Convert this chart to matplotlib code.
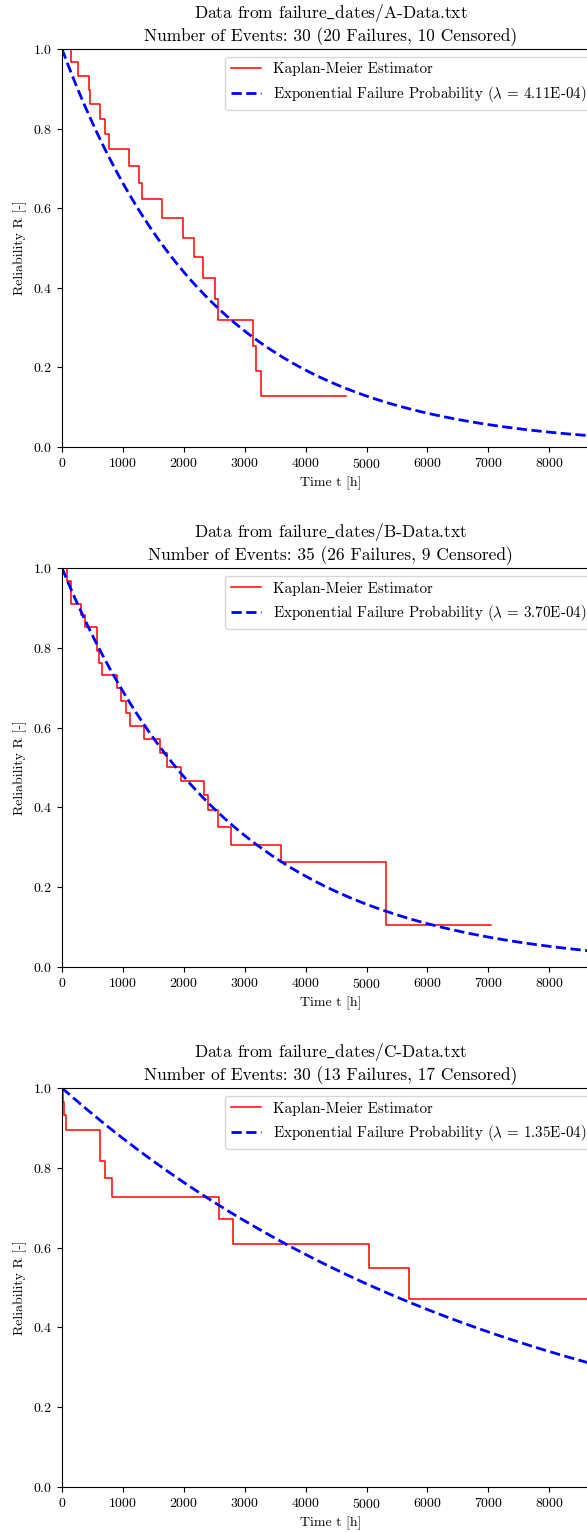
import numpy as np
import matplotlib
matplotlib.use("Agg")
import matplotlib.pyplot as plt

plt.rcParams['font.family'] = 'serif'
plt.rcParams['font.serif'] = ['cmr10', 'DejaVu Serif']
plt.rcParams['mathtext.fontset'] = 'cm'
plt.rcParams['axes.formatter.use_mathtext'] = True
plt.rcParams['axes.unicode_minus'] = False

# Kaplan-Meier step data (time of drop, survival after drop)
files = ["A", "B", "C"]
n_events = [30, 35, 30]
n_failures = [20, 26, 13]
n_censored = [10, 9, 17]
lambdas = [4.11e-4, 3.70e-4, 1.35e-4]

km_times_a = [142, 257, 449, 465, 624, 706, 778, 1095, 1259, 1319, 1647, 1992,
              2173, 2310, 2512, 2567, 3142, 3185, 3268]
km_surv_a = [0.967, 0.933, 0.897, 0.862, 0.825, 0.786, 0.748, 0.706, 0.664, 0.622,
             0.575, 0.526, 0.478, 0.425, 0.372, 0.319, 0.255, 0.191, 0.128]
km_end_a = 4658

km_times_b = [88, 148, 312, 380, 580, 613, 662, 909, 963, 1045, 1111, 1346, 1609,
              1719, 1954, 2332, 2392, 2556, 2770, 3602, 5315]
km_surv_b = [0.968, 0.911, 0.882, 0.853, 0.793, 0.761, 0.731, 0.699, 0.667, 0.636,
             0.604, 0.571, 0.537, 0.501, 0.466, 0.430, 0.393, 0.350, 0.307, 0.262,
             0.105]
km_end_b = 7044

km_times_c = [16, 38, 71, 629, 706, 826, 2572, 2802, 5046, 5692]
km_surv_c = [0.966, 0.932, 0.895, 0.817, 0.774, 0.726, 0.671, 0.610, 0.549, 0.471]
km_end_c = 9500

km_times = [km_times_a, km_times_b, km_times_c]
km_surv = [km_surv_a, km_surv_b, km_surv_c]
km_end = [km_end_a, km_end_b, km_end_c]

T_MAX = 8830

fig = plt.figure(figsize=(5.87, 15.32), dpi=100)

# panel boxes in pixels: (top, bottom)
rows = [(49, 447), (568, 967), (1088, 1487)]
W, H = 587, 1532
left = 62
right = left + T_MAX / 1000 * 60.9

for i in range(3):
    top, bottom = rows[i]
    ax = fig.add_axes([left / W, 1 - bottom / H, (right - left) / W, (bottom - top) / H])

    t = [0] + km_times[i] + [km_end[i]]
    r = [1.0] + km_surv[i] + [km_surv[i][-1]]
    ax.step(t, r, where="post", color="red", lw=1.1, label="Kaplan-Meier Estimator")

    tt = np.linspace(0, T_MAX, 400)
    ax.plot(tt, np.exp(-lambdas[i] * tt), "b--", lw=2,
            label=r"Exponential Failure Probability ($\lambda$ = %.2E)" % lambdas[i])

    ax.set_xlim(0, T_MAX)
    ax.set_ylim(0, 1)
    ax.set_xticks(range(0, 9000, 1000))
    ax.set_yticks([0.0, 0.2, 0.4, 0.6, 0.8, 1.0])
    ax.tick_params(labelsize=10)
    ax.set_xlabel("Time t [h]", fontsize=10)
    ax.set_ylabel("Reliability R [-]", fontsize=10)
    ax.set_title("Data from failure$\\_$dates/%s-Data.txt\nNumber of Events: %d (%d Failures, %d Censored)"
                 % (files[i], n_events[i], n_failures[i], n_censored[i]), fontsize=12.5)
    ax.legend(loc="upper right", fontsize=10.8)

fig.savefig("out.png", dpi=100)
